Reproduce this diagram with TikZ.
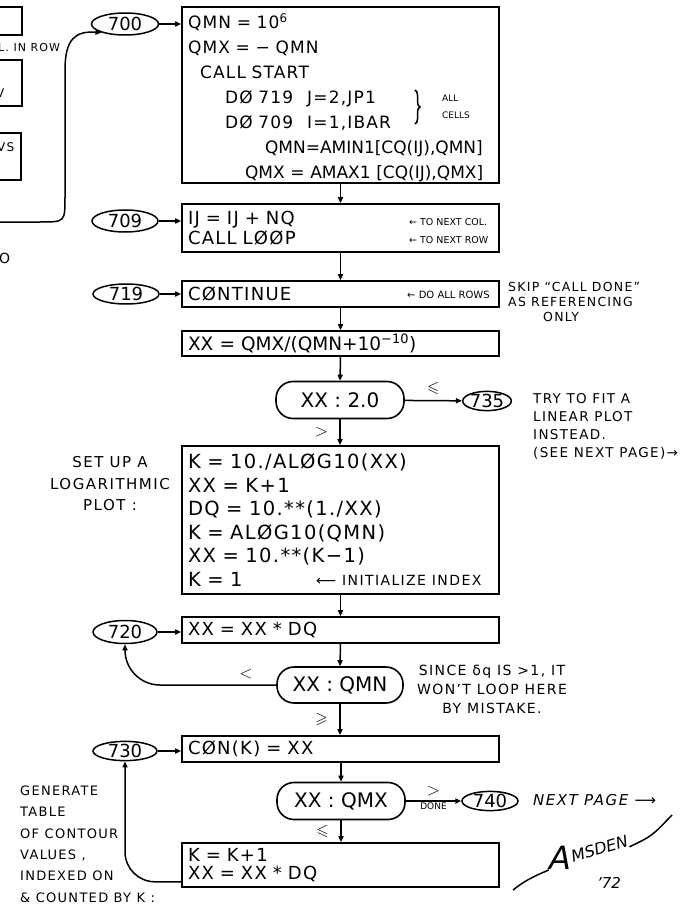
\documentclass[tikz,border=0pt]{standalone}
\usepackage{amsmath,amssymb}
\usepackage{fontspec}
\setmainfont{DejaVu Sans}
\newfontfamily\notefont[LetterSpace=10]{DejaVu Sans}
\newfontfamily\boxfont[LetterSpace=7]{DejaVu Sans}
\usetikzlibrary{arrows.meta,shapes.geometric,decorations.pathreplacing}

\begin{document}
\begin{tikzpicture}[x=1pt,y=-1pt]
\tikzset{
  stepbox/.style={rectangle,draw,line width=1.6pt,minimum width=317pt,text width=305pt,inner xsep=6pt,inner ysep=0pt,align=left,font=\boxfont\fontsize{18}{24}\selectfont},
  cutbox/.style={rectangle,draw,line width=1.6pt,minimum width=40pt},
  labeloval/.style={ellipse,draw,line width=1.5pt,inner sep=0pt,font=\fontsize{18}{18}\selectfont},
  testbox/.style={rectangle,rounded corners=17pt,draw,line width=1.6pt,minimum width=128pt,minimum height=37pt,font=\fontsize{20}{20}\selectfont},
  note/.style={inner sep=0pt,font=\notefont\fontsize{14}{18}\selectfont},
  boxnote/.style={inner sep=0pt,anchor=west,font=\rmfamily\fontsize{9.5}{9.5}\selectfont},
  signote/.style={inner sep=0pt,font=\itshape\fontsize{16}{16}\selectfont},
  flow/.style={-{Triangle[open,length=6pt,width=5pt]},line width=1.5pt},
  plain/.style={line width=1.5pt}
}
\useasboundingbox (0,0) rectangle (697,912);
\clip (0,0) rectangle (697,912);
\node[cutbox,minimum height=28pt] (n_cut1) at (2,21) {};
\node[cutbox,minimum height=46pt] (n_cut2) at (2,83) {};
\node[cutbox,minimum height=47pt] (n_cut3) at (1,156.5) {};
\node[note,anchor=west,font=\notefont\fontsize{11}{11}\selectfont] (n_cutrow) at (-2,47) {L. IN ROW};
\node[note,anchor=west,font=\notefont\fontsize{12}{12}\selectfont] (n_cutv) at (-4,93) {V};
\node[note,anchor=west,font=\notefont\fontsize{12}{12}\selectfont] (n_cutvs) at (-3,147) {VS};
\node[note,anchor=west] (n_cuto) at (-1,258) {O};
\coordinate (n_in700) at (-5,222);
\node[labeloval,minimum width=67pt,minimum height=22pt] (n_o700) at (125,24) {700};
\node[labeloval,minimum width=66pt,minimum height=22pt] (n_o709) at (125,221) {709};
\node[labeloval,minimum width=66pt,minimum height=20pt] (n_o719) at (126,294) {719};
\node[labeloval,minimum width=64pt,minimum height=23pt] (n_o720) at (125,632) {720};
\node[labeloval,minimum width=64pt,minimum height=19pt] (n_o730) at (125,751) {730};
\node[labeloval,minimum width=46pt,minimum height=19pt] (n_o735) at (487,401) {735};
\node[labeloval,minimum width=56pt,minimum height=19pt] (n_o740) at (490,801) {740};
\node[stepbox,minimum height=176pt,font=\boxfont\fontsize{17}{25}\selectfont] (n_b700) at (340.5,95) {\mbox{}\\[-5pt]QMN = 10\textsuperscript{6}\\QMX = − QMN\\\hspace*{12pt}CALL START\\\hspace*{37pt}DØ 719\hspace{14pt}J=2,JP1\\\hspace*{37pt}DØ 709\hspace{14pt}I=1,IBAR\\\hspace*{77pt}{\rmfamily QMN=AMIN1[CQ(IJ),QMN]}\\\hspace*{57pt}{\rmfamily QMX = AMAX1 [CQ(IJ),QMX]}};
\node[stepbox,minimum height=48pt,font=\boxfont\fontsize{18}{20}\selectfont] (n_b709) at (340.5,228) {IJ = IJ + NQ\\CALL LØØP};
\node[stepbox,minimum height=26pt] (n_b719) at (340.5,294) {CØNTINUE};
\node[stepbox,minimum height=25pt,font=\rmfamily\fontsize{18.5}{20}\selectfont] (n_bxx) at (340.5,343.5) {XX = QMX/(QMN+10\textsuperscript{−10})};
\node[testbox] (n_t20) at (340,400) {XX : 2.0};
\node[stepbox,minimum height=148pt,font=\boxfont\fontsize{19.5}{23.5}\selectfont] (n_blog) at (340.5,520) {K = 10./ALØG10(XX)\\XX = K+1\\DQ = 10.**(1./XX)\\K = ALØG10(QMN)\\XX = 10.**(K−1)\\K = 1};
\node[stepbox,minimum height=26pt] (n_b720) at (340.5,630) {XX = XX * DQ};
\node[testbox,minimum width=126pt,minimum height=36pt] (n_tqmn) at (340,685) {XX : QMN};
\node[stepbox,minimum height=26pt] (n_b730) at (340.5,749) {CØN(K) = XX};
\node[testbox] (n_tqmx) at (341,801) {XX : QMX};
\node[stepbox,minimum height=44pt,font=\boxfont\fontsize{18}{18.5}\selectfont] (n_bnext) at (340.5,865) {K = K+1\\XX = XX * DQ};
\coordinate (n_brtop) at (415,90);
\coordinate (n_brbot) at (415,124);
\draw[plain,decorate,decoration={brace,amplitude=5pt}] (n_brtop) -- (n_brbot);
\node[boxnote,anchor=north west,align=left,font=\rmfamily\fontsize{9}{17}\selectfont] (n_allcells) at (442,95) {ALL\\CELLS};
\node[boxnote] (n_tocol) at (409,222) {← TO NEXT COL.};
\node[boxnote] (n_torow) at (409,240) {← TO NEXT ROW};
\node[boxnote,font=\rmfamily\fontsize{10}{10}\selectfont] (n_allrows) at (407,295) {← DO ALL ROWS};
\node[note,anchor=west] (n_init) at (316,580) {⟵ INITIALIZE INDEX};
\node[note,anchor=north west,align=left,font=\notefont\fontsize{12.5}{15}\selectfont] (n_skip) at (508,282.5) {SKIP “CALL DONE”\\AS REFERENCING\\\hspace*{35pt}ONLY};
\node[note,anchor=north west,align=left,font=\notefont\fontsize{13.5}{18}\selectfont] (n_try) at (533,393.5) {TRY TO FIT A\\LINEAR PLOT\\INSTEAD.\\(SEE NEXT PAGE)→};
\node[note,anchor=north,align=center,font=\notefont\fontsize{15}{21.5}\selectfont] (n_setup) at (110,456.5) {SET UP A\\LOGARITHMIC\\PLOT :};
\node[note,anchor=north,align=center,font=\notefont\fontsize{14}{19}\selectfont] (n_since) at (492,665) {SINCE δq IS >1, IT\\WON’T LOOP HERE\\BY MISTAKE.};
\node[note,anchor=north west,align=left,font=\notefont\fontsize{13}{21.4}\selectfont] (n_gen) at (20,785.5) {GENERATE\\TABLE\\OF CONTOUR\\VALUES ,\\INDEXED ON\\\& COUNTED BY K :};
\node[note,anchor=west,font=\notefont\itshape\fontsize{15}{15}\selectfont] (n_nextpage) at (533,800) {NEXT PAGE ⟶};
\node[signote,font=\itshape\fontsize{32}{32}\selectfont] (n_siga) at (560,858) {A};
\node[signote,rotate=16,anchor=south west] (n_sigrest) at (573,863) {MSDEN};
\node[signote,font=\itshape\fontsize{15}{15}\selectfont] (n_year) at (609,883) {’72};
\draw[plain] (513,890) .. controls (528,878) and (540,874) .. (n_siga.south west);
\draw[plain] (n_sigrest.south east) .. controls (652,836) .. (672,815);
\draw[flow] (n_in700) -- (40,222) .. controls (65,222) .. (65,197) -- (65,70) .. controls (65,38) and (76,31) .. (n_o700.200);
\draw[flow] (n_o700) -- (n_o700 -| n_b700.west);
\draw[flow] (n_o709) -- (n_o709 -| n_b709.west);
\draw[flow] (n_o719) -- (n_o719 -| n_b719.west);
\draw[flow] (n_o720) -- (n_o720 -| n_b720.west);
\draw[flow] (n_o730) -- (n_o730 -| n_b730.west);
\draw[flow] (n_b700) -- (n_b709);
\draw[flow] (n_b709) -- (n_b719);
\draw[flow] (n_b719) -- (n_bxx);
\draw[flow] (n_bxx.south) -- (n_t20.north);
\draw[flow] (n_t20.south) -- node[left=8pt,font=\fontsize{16}{16}\selectfont] {$>$} (n_blog.north -| n_t20.south);
\draw[flow] (n_t20) -- node[above=2pt,font=\fontsize{16}{16}\selectfont] {$\leqslant$} (n_o735);
\draw[flow] (n_blog) -- (n_b720);
\draw[flow] (n_b720.south) -- (n_tqmn.north);
\draw[flow,rounded corners=35pt] (n_tqmn.west) -| node[pos=0.1,above=2pt,font=\fontsize{16}{16}\selectfont] {$<$} (n_o720.south);
\draw[flow] (n_tqmn.south) -- node[left=8pt,font=\fontsize{16}{16}\selectfont] {$\geqslant$} (n_b730.north -| n_tqmn.south);
\draw[flow] (n_b730.south -| n_tqmx.north) -- (n_tqmx.north);
\draw[flow] (n_tqmx) -- node[above=1pt,font=\fontsize{16}{16}\selectfont] {$>$} node[below=1pt,boxnote,anchor=north,font=\rmfamily\fontsize{9}{9}\selectfont] {DONE} (n_o740);
\draw[flow] (n_tqmx.south) -- node[left=8pt,font=\fontsize{16}{16}\selectfont] {$\leqslant$} (n_bnext.north -| n_tqmx.south);
\draw[flow,rounded corners=30pt] ([yshift=6pt]n_bnext.south west) -| (n_o730.south);
\end{tikzpicture}
\end{document}
